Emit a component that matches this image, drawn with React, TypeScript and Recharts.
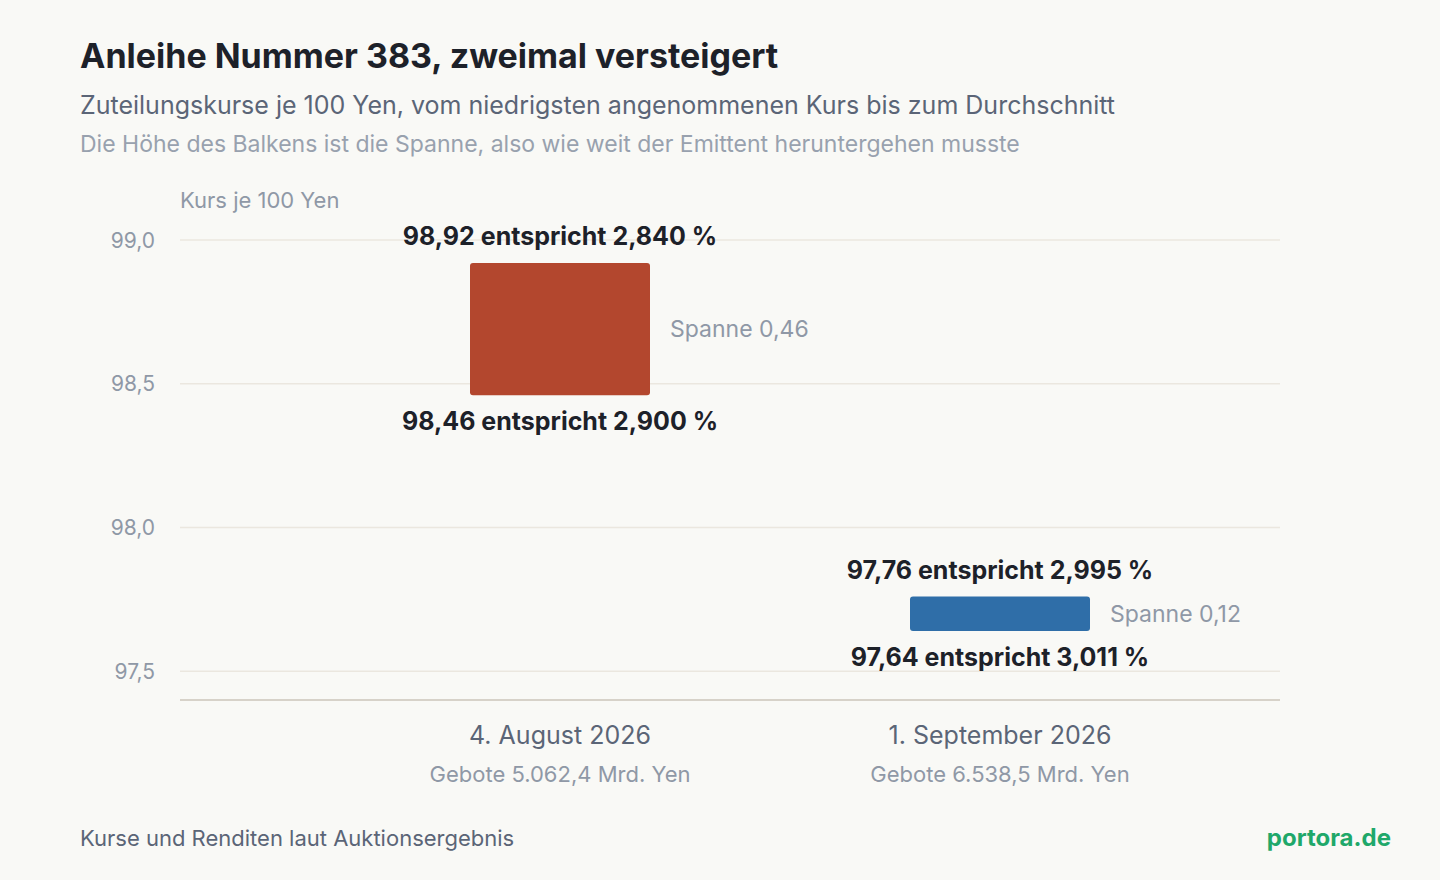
import { BarChart, Bar, XAxis, YAxis, CartesianGrid } from 'recharts'

const dates = ['4. August 2026', '1. September 2026']
const bids = ['Gebote 5.062,4 Mrd. Yen', 'Gebote 6.538,5 Mrd. Yen']
const lowPrices = [98.46, 97.64]
const highPrices = [98.92, 97.76]
const lowYields = ['2,900', '3,011']
const highYields = ['2,840', '2,995']
const barColors = ['#b3472e', '#2f6ea8']
const yTicks = [97.5, 98, 98.5, 99]

const data = dates.map((d, i) => ({ date: d, range: [lowPrices[i], highPrices[i]] }))

const FONT = 'Inter, "Noto Sans", sans-serif'
const de = (n: number, digits: number) => n.toFixed(digits).replace('.', ',')

function BarShape(props: any) {
  const { x, y, width, height, index } = props
  const top = Math.min(y, y + height)
  const h = Math.abs(height)
  const cx = x + width / 2
  const spanne = highPrices[index] - lowPrices[index]
  return (
    <g>
      <rect x={x} y={top} width={width} height={h} rx={3} ry={3} fill={barColors[index]} />
      <text x={cx} y={top - 27} textAnchor="middle" dominantBaseline="central" fontFamily={FONT} fontWeight={700} fontSize={25} fill="#1d2129">
        {`${de(highPrices[index], 2)} entspricht ${highYields[index]} %`}
      </text>
      <text x={cx} y={top + h + 26} textAnchor="middle" dominantBaseline="central" fontFamily={FONT} fontWeight={700} fontSize={25} fill="#1d2129">
        {`${de(lowPrices[index], 2)} entspricht ${lowYields[index]} %`}
      </text>
      <text x={x + width + 20} y={top + h / 2} dominantBaseline="central" fontFamily={FONT} fontSize={23} fill="#8f98a6">
        {`Spanne ${de(spanne, 2)}`}
      </text>
    </g>
  )
}

function XTick(props: any) {
  const { x, y, payload, index } = props
  return (
    <g>
      <text x={x} y={y + 35} textAnchor="middle" dominantBaseline="central" fontFamily={FONT} fontSize={25} fill="#5b6577">
        {payload.value}
      </text>
      <text x={x} y={y + 74} textAnchor="middle" dominantBaseline="central" fontFamily={FONT} fontSize={22} fill="#8f98a6">
        {bids[index]}
      </text>
    </g>
  )
}

function YTick(props: any) {
  const { x, y, payload } = props
  return (
    <text x={x} y={y} textAnchor="end" dominantBaseline="central" fontFamily={FONT} fontSize={21} fill="#8f98a6">
      {de(payload.value, 1)}
    </text>
  )
}

export default function App() {
  return (
    <div style={{ position: 'relative', width: 1440, height: 880, background: '#f9f9f6', fontFamily: FONT, overflow: 'hidden' }}>
      <style>{'body{margin:0}'}</style>
      <div style={{ position: 'absolute', left: 80, top: 35, fontSize: 34, lineHeight: '42px', fontWeight: 700, color: '#1d2129' }}>
        Anleihe Nummer 383, zweimal versteigert
      </div>
      <div style={{ position: 'absolute', left: 80, top: 90, fontSize: 25, lineHeight: '30px', color: '#5b6577' }}>
        Zuteilungskurse je 100 Yen, vom niedrigsten angenommenen Kurs bis zum Durchschnitt
      </div>
      <div style={{ position: 'absolute', left: 80, top: 130, fontSize: 23, lineHeight: '28px', color: '#98a1ae' }}>
        Die Höhe des Balkens ist die Spanne, also wie weit der Emittent heruntergehen musste
      </div>
      <div style={{ position: 'absolute', left: 180, top: 187, fontSize: 22, lineHeight: '26px', color: '#8f98a6' }}>
        Kurs je 100 Yen
      </div>
      <div style={{ position: 'absolute', left: 80, top: 825, fontSize: 22, lineHeight: '26px', color: '#5b6577' }}>
        Kurse und Renditen laut Auktionsergebnis
      </div>
      <div style={{ position: 'absolute', right: 49, top: 823, fontSize: 24, lineHeight: '30px', fontWeight: 700, color: '#1fa86a' }}>
        portora.de
      </div>
      <div style={{ position: 'absolute', left: 0, top: 0 }}>
        <BarChart width={1440} height={880} data={data} margin={{ top: 240, right: 160, bottom: 120, left: 100 }}>
          <CartesianGrid vertical={false} stroke="#ebe7df" strokeWidth={1.5} />
          <XAxis
            dataKey="date"
            height={60}
            padding={{ left: 160, right: 60 }}
            axisLine={{ stroke: '#cfcabf', strokeWidth: 1.5 }}
            tickLine={false}
            tickSize={0}
            tickMargin={0}
            tick={<XTick />}
            interval={0}
          />
          <YAxis
            width={80}
            domain={[97.4, 99]}
            ticks={yTicks}
            axisLine={false}
            tickLine={false}
            tickSize={0}
            tickMargin={25}
            tick={<YTick />}
          />
          <Bar dataKey="range" barSize={180} shape={<BarShape />} isAnimationActive={false} />
        </BarChart>
      </div>
    </div>
  )
}
